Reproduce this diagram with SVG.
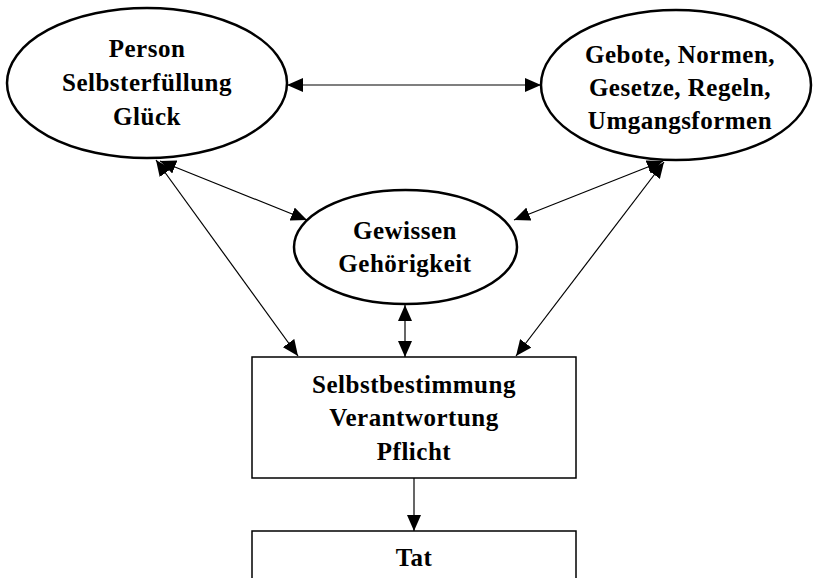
<svg xmlns="http://www.w3.org/2000/svg" width="817" height="578" viewBox="0 0 817 578">
<defs>
<style>
.n{fill:#fff;stroke:#000;stroke-width:2.5}
.r{fill:#fff;stroke:#000;stroke-width:1.5}
.t{font-family:"Liberation Serif","Times New Roman",serif;font-weight:bold;font-size:25px;letter-spacing:0.5px;text-anchor:middle;fill:#000}
.c{stroke:#000;stroke-width:1.2;fill:none;marker-end:url(#ah)}
.d{marker-start:url(#ah)}
</style>
<marker id="ah" viewBox="0 0 16 14" refX="16" refY="7" markerWidth="16" markerHeight="14" markerUnits="userSpaceOnUse" orient="auto-start-reverse">
<path d="M0,0 L16,7 L0,14 Z" fill="#000"/>
</marker>
</defs>
<g id="connectors">
<line class="c d" x1="287" y1="85" x2="541" y2="85"/>
<line class="c d" x1="156" y1="160" x2="298" y2="356"/>
<line class="c d" x1="160" y1="161" x2="307" y2="220"/>
<line class="c d" x1="663" y1="161" x2="514" y2="220"/>
<line class="c d" x1="664" y1="162" x2="516" y2="356"/>
<line class="c d" x1="405" y1="305" x2="405" y2="357"/>
<line class="c" x1="414" y1="478" x2="414" y2="531"/>
</g>
<g id="person">
<ellipse class="n" cx="147" cy="83" rx="140" ry="75"/>
<text class="t" x="147" y="57">Person</text>
<text class="t" x="147" y="91">Selbsterfüllung</text>
<text class="t" x="147" y="125">Glück</text>
</g>
<g id="gebote">
<ellipse class="n" cx="676" cy="85" rx="135" ry="75"/>
<text class="t" x="680" y="63">Gebote, Normen,</text>
<text class="t" x="680" y="96">Gesetze, Regeln,</text>
<text class="t" x="680" y="129">Umgangsformen</text>
</g>
<g id="gewissen">
<ellipse class="n" cx="405.5" cy="247" rx="111.5" ry="57"/>
<text class="t" x="405" y="239">Gewissen</text>
<text class="t" x="405" y="272">Gehörigkeit</text>
</g>
<g id="selbstbestimmung">
<rect class="r" x="252" y="357" width="324" height="121"/>
<text class="t" x="414" y="393">Selbstbestimmung</text>
<text class="t" x="414" y="426">Verantwortung</text>
<text class="t" x="414" y="460">Pflicht</text>
</g>
<g id="tat">
<rect class="r" x="252" y="531" width="324" height="60"/>
<text class="t" x="414" y="566">Tat</text>
</g>
</svg>
